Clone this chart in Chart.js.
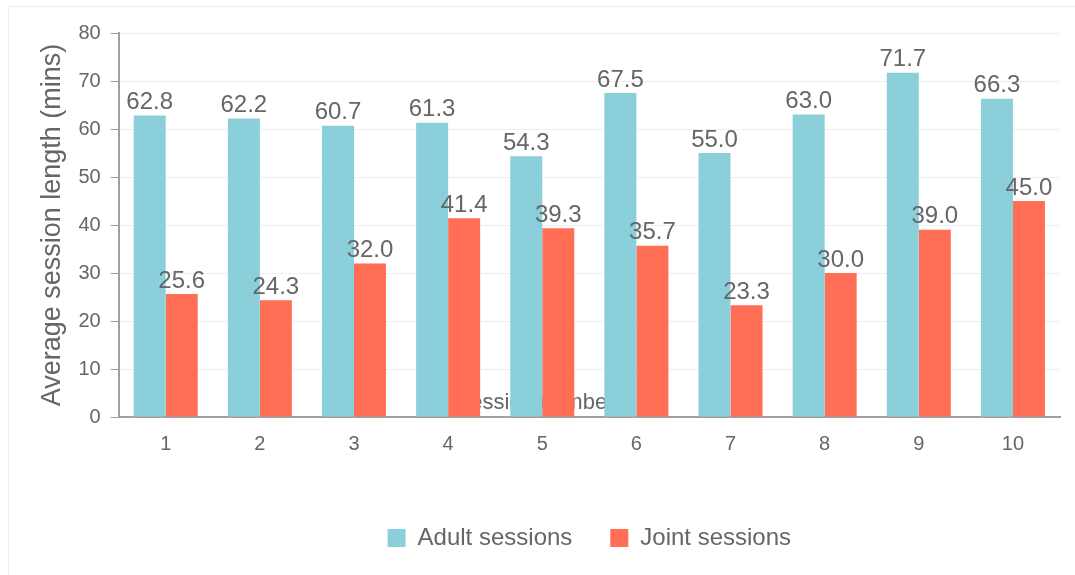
<!DOCTYPE html>
<html>
<head>
<meta charset="utf-8">
<script src="https://cdn.jsdelivr.net/npm/chart.js@4/dist/chart.umd.min.js"></script>
<style>
  html, body { margin: 0; padding: 0; background: #fff; overflow: hidden; }
  #frame { position: absolute; left: 8px; top: 6px; width: 1200px; height: 700px; border: 1px solid #eeeeee; }
  #wrap { position: absolute; left: 0; top: 0; width: 1075px; height: 575px; }
</style>
</head>
<body>
<div id="frame"></div>
<div id="wrap"><canvas id="chart" width="1075" height="575"></canvas></div>
<script>
// Session numbers along the x axis
const sessions = ['1', '2', '3', '4', '5', '6', '7', '8', '9', '10'];
// Average session length in minutes
const adultSessions = [62.8, 62.2, 60.7, 61.3, 54.3, 67.5, 55.0, 63.0, 71.7, 66.3];
const jointSessions = [25.6, 24.3, 32.0, 41.4, 39.3, 35.7, 23.3, 30.0, 39.0, 45.0];
// Series names
const seriesNames = ['Adult sessions', 'Joint sessions'];

const FONT = '"Liberation Sans", Arial, sans-serif';
const TEXT = '#666666';

// Writes each bar's value just above it
const valueLabels = {
  id: 'valueLabels',
  afterDatasetsDraw(chart) {
    const ctx = chart.ctx;
    ctx.save();
    ctx.font = '24px ' + FONT;
    ctx.fillStyle = TEXT;
    ctx.textAlign = 'center';
    ctx.textBaseline = 'bottom';
    chart.data.datasets.forEach((ds, i) => {
      const meta = chart.getDatasetMeta(i);
      meta.data.forEach((bar, j) => {
        ctx.fillText(ds.data[j].toFixed(1), bar.x, bar.y - 1);
      });
    });
    ctx.restore();
  }
};

new Chart(document.getElementById('chart'), {
  type: 'bar',
  data: {
    labels: sessions,
    datasets: [
      { label: seriesNames[0], data: adultSessions, backgroundColor: '#8bcfdb' },
      { label: seriesNames[1], data: jointSessions, backgroundColor: '#ff6e55' }
    ]
  },
  options: {
    responsive: false,
    animation: false,
    categoryPercentage: 0.68,
    barPercentage: 1.0,
    layout: { padding: { top: 33, left: 10, right: 15, bottom: 15 } },
    scales: {
      x: {
        grid: { display: false, drawTicks: false },
        border: { display: true, color: '#a0a0a0', width: 2 },
        ticks: { color: TEXT, font: { family: FONT, size: 20 }, padding: 15 }
      },
      y: {
        min: 0,
        max: 80,
        ticks: { stepSize: 10, color: TEXT, font: { family: FONT, size: 20 }, padding: 10 },
        grid: { color: '#eeeeee', tickColor: '#a0a0a0', tickLength: 8 },
        border: { display: true, color: '#a0a0a0', width: 2 },
        title: {
          display: true,
          text: 'Average session length (mins)',
          color: TEXT,
          font: { family: FONT, size: 27 },
          padding: { top: 26, bottom: 0 }
        }
      }
    },
    plugins: {
      tooltip: { enabled: false },
      title: {
        display: true,
        text: 'Session number',
        position: 'bottom',
        weight: 500,
        color: TEXT,
        font: { family: FONT, size: 22, weight: 'normal' },
        padding: { top: -81, bottom: 71.6 }
      },
      legend: {
        position: 'bottom',
        fullSize: false,
        labels: {
          color: TEXT,
          font: { family: FONT, size: 24 },
          boxWidth: 18,
          boxHeight: 18,
          padding: 38
        }
      }
    }
  },
  plugins: [valueLabels]
});
</script>
</body>
</html>
